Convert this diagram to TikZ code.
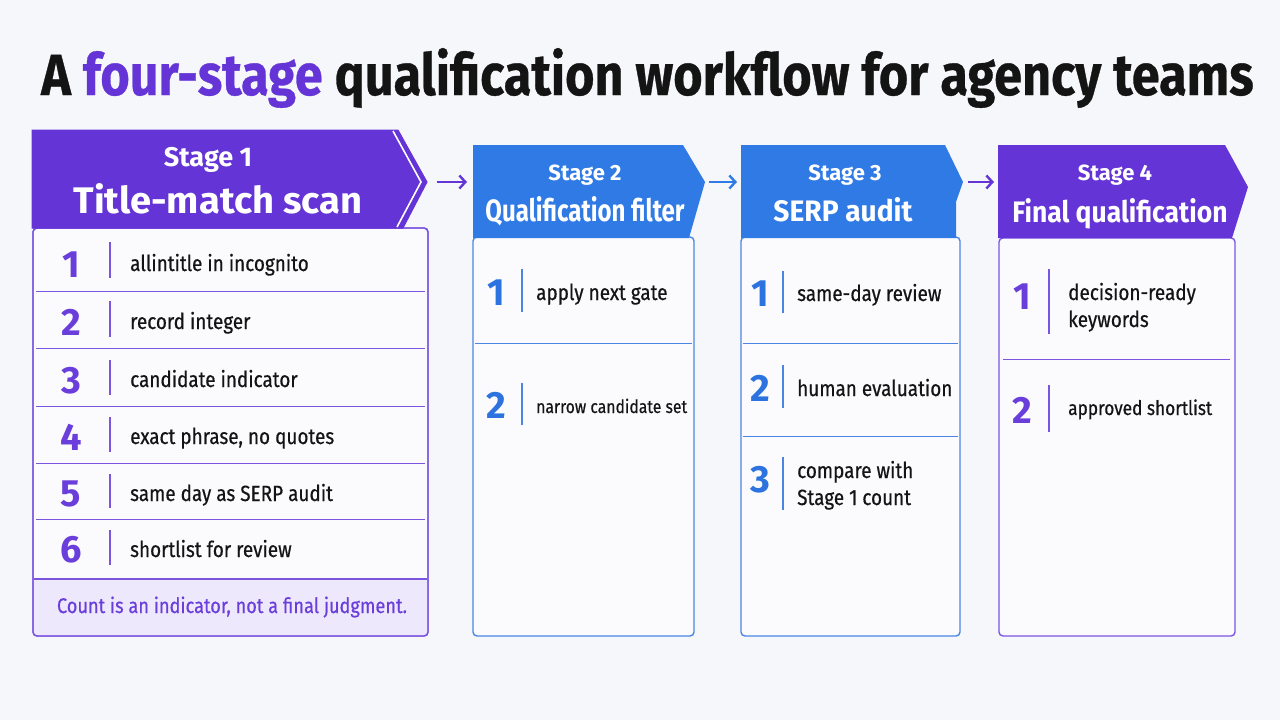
\documentclass[tikz,border=0pt]{standalone}
\usepackage{fontspec}
\setmainfont{Fira Sans}
\newfontfamily\itemfont{Fira Sans}[FakeStretch=0.86, FakeBold=0.5]
\newfontfamily\headfont{Fira Sans}[FakeBold=0.6]
\usetikzlibrary{arrows.meta}
\definecolor{bgc}{HTML}{F6F7FB}
\definecolor{purp}{HTML}{6434D6}
\definecolor{purpline}{HTML}{7B55E0}
\definecolor{purpnum}{HTML}{6A3EDB}
\definecolor{blu}{HTML}{2F7AE5}
\definecolor{bluline}{HTML}{4A85E4}
\definecolor{blunum}{HTML}{2C73E0}
\definecolor{foot}{HTML}{EEE8FC}
\definecolor{bodyc}{HTML}{FBFBFE}
\definecolor{ink}{HTML}{141414}
\begin{document}
\begin{tikzpicture}[x=1pt,y=-1pt,
  num/.style={font=\fontsize{38}{38}\selectfont\bfseries, anchor=base, inner sep=0},
  itm/.style={font=\itemfont\fontsize{22}{27}\selectfont, text=ink, anchor=base west, inner sep=0},
  stg/.style={text=white, anchor=base, inner sep=0},
  bodybox/.style={fill=bodyc, line width=1.4pt, rounded corners=4pt},
  sepline/.style={line width=1pt},
  barline/.style={line width=1.3pt},
  flowarrow/.style={line width=2.4pt, -{Straight Barb[length=6pt,width=13pt,line width=2.4pt]}}
]
\useasboundingbox (0,0) rectangle (1280,720);
\fill[bgc] (0,0) rectangle (1280,720);

% title
\node[anchor=base west, inner sep=0, text=ink] (title) at (41,95)
  {\resizebox{1212pt}{47pt}{\headfont\bfseries A \textcolor{purp}{four-stage} qualification workflow for agency teams}};

% ---------- Stage 1 ----------
\draw[bodybox, draw=purpline] (33,228) rectangle (428,636);
\fill[foot, rounded corners=3pt] (34,579) rectangle (427,635);
\draw[line width=1.4pt, purpline, rounded corners=4pt] (33,228) rectangle (428,636);
\foreach \yy in {291,348,406,463,519} \draw[sepline, purpline] (36,\yy) -- (425,\yy);
\draw[line width=1.4pt, purpline] (34,579) -- (427,579);
\fill[purp, draw=purp, line width=1pt] (32,130) -- (398,130) -- (427,182) -- (403,228) -- (32,228) -- cycle;
\draw[white, line width=1.6pt] (393,131) -- (421,182) -- (397,227);
\node[stg, font=\fontsize{27}{27}\selectfont\bfseries] (h1a) at (208,166) {Stage 1};
\node[stg] (h1b) at (218,213) {\resizebox{289pt}{30pt}{\bfseries Title-match scan}};
\coordinate (a1s) at (437,182);

\foreach \n/\nb/\tb/\ya/\yb/\txt in {
  1/277/271/242/278/allintitle in incognito,
  2/335/329/301/337/record integer,
  3/393/387/360/395/candidate indicator,
  4/450/444/417/452/{exact phrase, no quotes},
  5/506/501/474/508/same day as SERP audit,
  6/562/557/530/565/shortlist for review}{
  \node[num, text=purpnum] (s1n\n) at (71,\nb) {\n};
  \draw[barline, purpline] (110,\ya) -- (110,\yb);
  \node[itm] (s1t\n) at (130,\tb) {\txt};
}
\node[anchor=base, inner sep=0, text=purpnum] (s1foot) at (232,613)
  {\resizebox{350pt}{!}{\itemfont\fontsize{20}{20}\selectfont Count is an indicator, not a final judgment.}};

% ---------- Stage 2 ----------
\draw[bodybox, draw=bluline] (473,237) rectangle (694,636);
\draw[sepline, bluline] (475,343) -- (692,343);
\fill[blu] (473,145) -- (683,145) -- (705,182) -- (689,238) -- (473,238) -- cycle;
\coordinate (a1e) at (467,182);
\node[stg, font=\fontsize{22}{22}\selectfont\bfseries] (h2a) at (585,180) {Stage 2};
\node[stg] (h2b) at (585,221) {\resizebox{199pt}{25pt}{\bfseries Qualification filter}};
\node[num, text=blunum] (s2n1) at (496,305) {1};
\draw[barline, bluline] (522,269) -- (522,312);
\node[itm] (s2t1) at (536,300) {apply next gate};
\node[num, text=blunum] (s2n2) at (496,418) {2};
\draw[barline, bluline] (522,383) -- (522,425);
\node[itm] (s2t2) at (536,413) {\resizebox{151pt}{!}{narrow candidate set}};
\coordinate (a2s) at (709,182);

% ---------- Stage 3 ----------
\draw[bodybox, draw=bluline] (741,237) rectangle (960,636);
\draw[sepline, bluline] (743,343) -- (958,343);
\draw[sepline, bluline] (743,436) -- (958,436);
\fill[blu] (741,145) -- (945,145) -- (963,182) -- (956,202) -- (956,238) -- (741,238) -- cycle;
\coordinate (a2e) at (737,182);
\node[stg, font=\fontsize{22}{22}\selectfont\bfseries] (h3a) at (845,180) {Stage 3};
\node[stg] (h3b) at (843,221) {\resizebox{139pt}{24pt}{\bfseries SERP audit}};
\node[num, text=blunum] (s3n1) at (760,306) {1};
\draw[barline, bluline] (783,271) -- (783,313);
\node[itm] (s3t1) at (797,301) {same-day review};
\node[num, text=blunum] (s3n2) at (760,401) {2};
\draw[barline, bluline] (783,365) -- (783,408);
\node[itm] (s3t2) at (797,396) {human evaluation};
\node[num, text=blunum] (s3n3) at (760,492) {3};
\draw[barline, bluline] (783,457) -- (783,510);
\node[itm] (s3t3a) at (797,478) {compare with};
\node[itm] (s3t3b) at (797,505) {Stage 1 count};
\coordinate (a3s) at (968,182);

% ---------- Stage 4 ----------
\draw[bodybox, draw=purpline] (999,238) rectangle (1235,636);
\draw[sepline, purpline] (1003,359) -- (1230,359);
\fill[purp] (998,145) -- (1225,145) -- (1248,187) -- (1232,238) -- (998,238) -- cycle;
\coordinate (a3e) at (994,182);
\node[stg, font=\fontsize{22}{22}\selectfont\bfseries] (h4a) at (1115,180) {Stage 4};
\node[stg] (h4b) at (1120,222) {\resizebox{215pt}{24pt}{\bfseries Final qualification}};
\node[num, text=purpnum] (s4n1) at (1022,309) {1};
\draw[barline, purpline] (1049,269) -- (1049,334);
\node[itm] (s4t1a) at (1068,300) {decision-ready};
\node[itm] (s4t1b) at (1068,327) {keywords};
\node[num, text=purpnum] (s4n2) at (1022,423) {2};
\draw[barline, purpline] (1049,385) -- (1049,432);
\node[itm] (s4t2) at (1068,415) {\resizebox{144pt}{!}{approved shortlist}};

% arrows
\draw[flowarrow, purp] (a1s) -- (a1e);
\draw[flowarrow, blu] (a2s) -- (a2e);
\draw[flowarrow, purp] (a3s) -- (a3e);
\end{tikzpicture}
\end{document}
